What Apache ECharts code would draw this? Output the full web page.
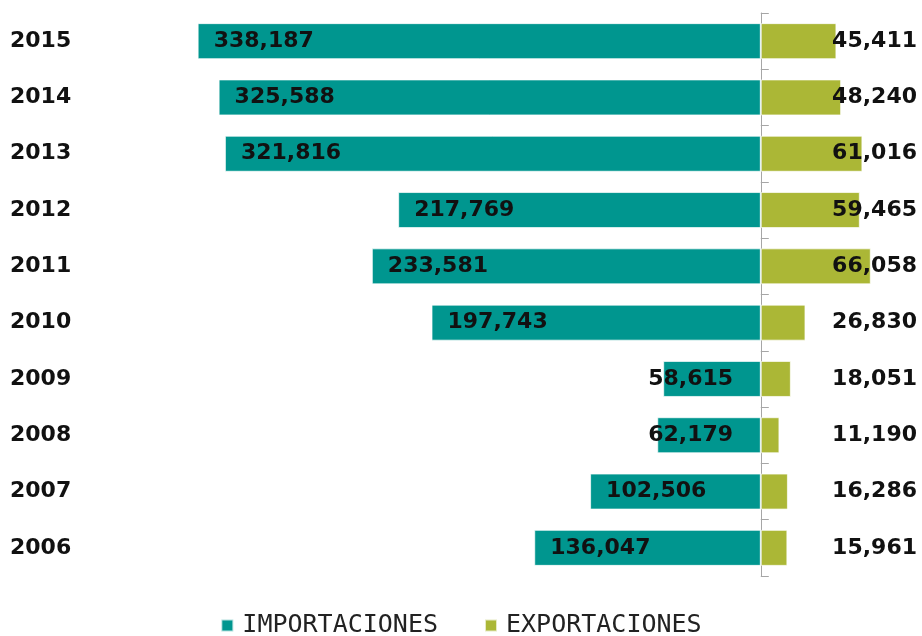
<!DOCTYPE html>
<html>
<head>
<meta charset="utf-8">
<script src="https://cdn.jsdelivr.net/npm/echarts@6/dist/echarts.min.js"></script>
<style>
  html, body { margin: 0; padding: 0; background: #fff; }
  #chart { width: 922px; height: 636px; }
</style>
</head>
<body>
<div id="chart"></div>
<script>
var years = ["2015", "2014", "2013", "2012", "2011", "2010", "2009", "2008", "2007", "2006"];
var importaciones = [338187, 325588, 321816, 217769, 233581, 197743, 58615, 62179, 102506, 136047];
var exportaciones = [45411, 48240, 61016, 59465, 66058, 26830, 18051, 11190, 16286, 15961];
// labels of the two shortest import bars start left of the bar in the original
var importLabelShift = [0, 0, 0, 0, 0, 0, -31, -25, 0, 0];

var fmt = function (v) {
  return Math.abs(v).toLocaleString("en-US");
};
var numFont = {
  fontFamily: "DejaVu Sans",
  fontWeight: "bold",
  fontSize: 22,
  color: "#111"
};

var myChart = echarts.init(document.getElementById("chart"));
myChart.setOption({
  animation: false,
  grid: {
    left: 128,
    right: 3,
    top: 13,
    bottom: 60
  },
  legend: {
    top: 608,
    left: "center",
    icon: "rect",
    itemWidth: 12,
    itemHeight: 12,
    itemGap: 46,
    textStyle: {
      fontFamily: "DejaVu Sans Mono",
      fontSize: 25,
      color: "#222",
      padding: [0, 0, 0, 4]
    },
    data: ["IMPORTACIONES", "EXPORTACIONES"]
  },
  xAxis: {
    type: "value",
    min: -380000,
    max: 95000,
    show: false
  },
  yAxis: [
    {
      type: "category",
      data: years,
      inverse: true,
      position: "left",
      axisLine: { show: false, onZero: false },
      axisTick: { show: false },
      axisLabel: Object.assign({ margin: 118, align: "left" }, numFont)
    },
    {
      type: "category",
      data: years,
      inverse: true,
      axisLine: { show: true, onZero: true, lineStyle: { color: "#a6a6a6", width: 1 } },
      axisTick: { show: true, length: 8, lineStyle: { color: "#a6a6a6" } },
      axisLabel: { show: false }
    },
    {
      type: "category",
      data: years,
      inverse: true,
      position: "right",
      z: 10,
      axisLine: { show: false, onZero: false },
      axisTick: { show: false },
      axisLabel: Object.assign({
        inside: true,
        margin: 2,
        formatter: function (v, i) {
          return fmt(exportaciones[i]);
        }
      }, numFont)
    }
  ],
  series: [
    {
      name: "IMPORTACIONES",
      type: "bar",
      barGap: "-100%",
      barCategoryGap: "36%",
      itemStyle: { color: "#00968f", borderColor: "rgba(255,255,255,0.7)", borderWidth: 1 },
      label: Object.assign({
        show: true,
        position: "insideLeft",
        distance: 16,
        formatter: function (p) { return fmt(p.value); }
      }, numFont),
      data: importaciones.map(function (v, i) {
        var item = { value: -v };
        if (importLabelShift[i]) {
          item.label = { offset: [importLabelShift[i], 0] };
        }
        return item;
      })
    },
    {
      name: "EXPORTACIONES",
      type: "bar",
      barGap: "-100%",
      barCategoryGap: "36%",
      itemStyle: { color: "#abb736", borderColor: "rgba(255,255,255,0.7)", borderWidth: 1 },
      data: exportaciones
    }
  ]
});
window.onresize = function () {
  myChart.resize();
};
</script>
</body>
</html>
